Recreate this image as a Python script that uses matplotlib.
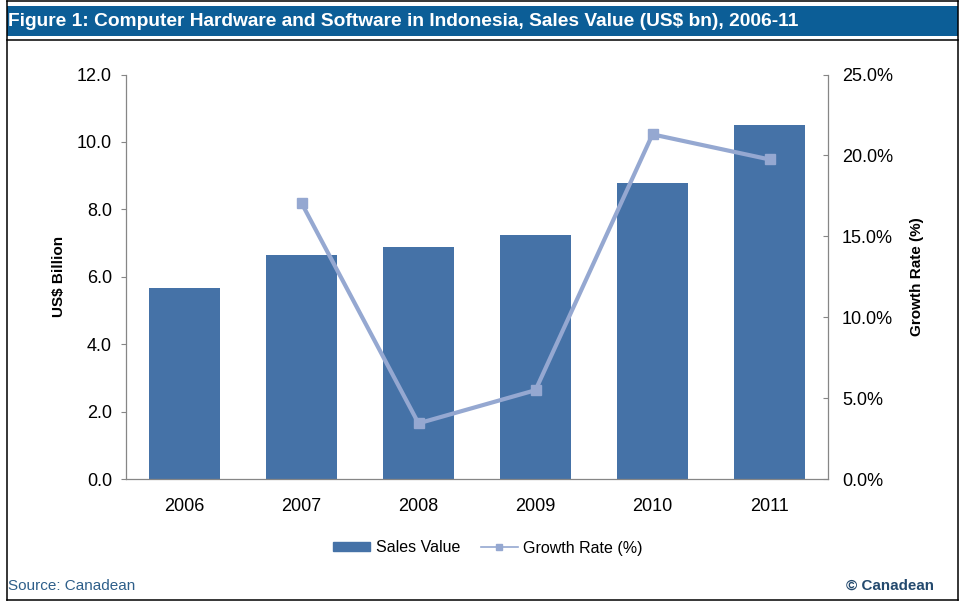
import matplotlib
matplotlib.use("Agg")
import matplotlib.pyplot as plt
from matplotlib.patches import Rectangle
from matplotlib.lines import Line2D
from matplotlib.ticker import FuncFormatter

plt.rcParams['font.family'] = ['Liberation Sans', 'DejaVu Sans']

years = ['2006', '2007', '2008', '2009', '2010', '2011']
sales = [5.68, 6.64, 6.88, 7.24, 8.79, 10.51]
growth_years = ['2007', '2008', '2009', '2010', '2011']
growth = [17.06, 3.44, 5.49, 21.3, 19.75]

W, H = 962, 605
bar_color = '#4572A7'
line_color = '#95A8D1'
axis_color = '#868686'


def fx(px):
    return px / W


def fy(py):
    return 1 - py / H


fig = plt.figure(figsize=(W / 100, H / 100), dpi=100)

# frame and title band
fig.add_artist(Line2D([fx(7), fx(958)], [fy(1), fy(1)], color='black', lw=1.1))
fig.add_artist(Line2D([fx(7), fx(958)], [fy(40), fy(40)], color='black', lw=1.1))
fig.add_artist(Line2D([fx(7), fx(7)], [fy(1), fy(600)], color='black', lw=1.1))
fig.add_artist(Line2D([fx(958), fx(958)], [fy(1), fy(600)], color='black', lw=1.1))
fig.add_artist(Line2D([fx(7), fx(958)], [fy(600), fy(600)], color='black', lw=1.1))
fig.add_artist(Rectangle((fx(7), fy(36)), fx(951), fy(6) - fy(36),
                         transform=fig.transFigure, color='#0C5E97', lw=0))
fig.text(fx(8), fy(21), 'Figure 1: Computer Hardware and Software in Indonesia, Sales Value (US$ bn), 2006-11',
         color='white', fontsize=13.8, fontweight='bold', va='center', ha='left')

ax = fig.add_axes([fx(126), fy(479), fx(828) - fx(126), fy(74.5) - fy(479)])
x = list(range(len(years)))
ax.bar(x, sales, width=0.61, color=bar_color, zorder=2)
ax.set_xlim(-0.5, len(years) - 0.5)
ax.set_ylim(0, 12)
ax.set_yticks([0, 2, 4, 6, 8, 10, 12])
ax.yaxis.set_major_formatter(FuncFormatter(lambda v, p: f'{v:.1f}'))
ax.set_xticks(x)
ax.set_xticklabels(years)
for s in ['top', 'right']:
    ax.spines[s].set_visible(False)
for s in ['left', 'bottom']:
    ax.spines[s].set_color(axis_color)
    ax.spines[s].set_linewidth(0.9)
ax.tick_params(axis='y', length=3.6, color=axis_color, labelsize=13, pad=6.5)
ax.tick_params(axis='x', length=0, labelsize=13, pad=13.5)
ax.set_ylabel('US$ Billion', fontsize=11, fontweight='bold', labelpad=8)

ax2 = ax.twinx()
gx = [years.index(y) for y in growth_years]
ax2.plot(gx, growth, color=line_color, lw=3, marker='s', markersize=7.5,
         markerfacecolor=line_color, markeredgecolor=line_color, zorder=3)
ax2.set_ylim(0, 25)
ax2.set_yticks([0, 5, 10, 15, 20, 25])
ax2.yaxis.set_major_formatter(FuncFormatter(lambda v, p: f'{v:.1f}%'))
for s in ['top', 'left', 'bottom']:
    ax2.spines[s].set_visible(False)
ax2.spines['right'].set_color(axis_color)
ax2.spines['right'].set_linewidth(0.9)
ax2.tick_params(axis='y', direction='in', length=3.6, color=axis_color, labelsize=13, pad=10)
ax2.set_ylabel('Growth Rate (%)', fontsize=11, fontweight='bold', labelpad=12)

handles = [Rectangle((0, 0), 1, 1, color=bar_color),
           Line2D([], [], color=line_color, lw=1.2, marker='s', markersize=5,
                  markerfacecolor=line_color, markeredgecolor=line_color)]
fig.legend(handles, ['Sales Value', 'Growth Rate (%)'], loc='center',
           bbox_to_anchor=(fx(488), fy(548)), ncol=2, frameon=False,
           fontsize=11.5, handlelength=2.3, handleheight=0.5, handletextpad=0.35,
           columnspacing=1.3)

fig.text(fx(8), fy(586), 'Source: Canadean', color='#2E5F8A', fontsize=11,
         va='center', ha='left')
fig.text(fx(934), fy(586), '\u00a9 Canadean', color='#244A6E', fontsize=10.9,
         fontweight='bold', va='center', ha='right')

fig.savefig('out.png', dpi=100)
